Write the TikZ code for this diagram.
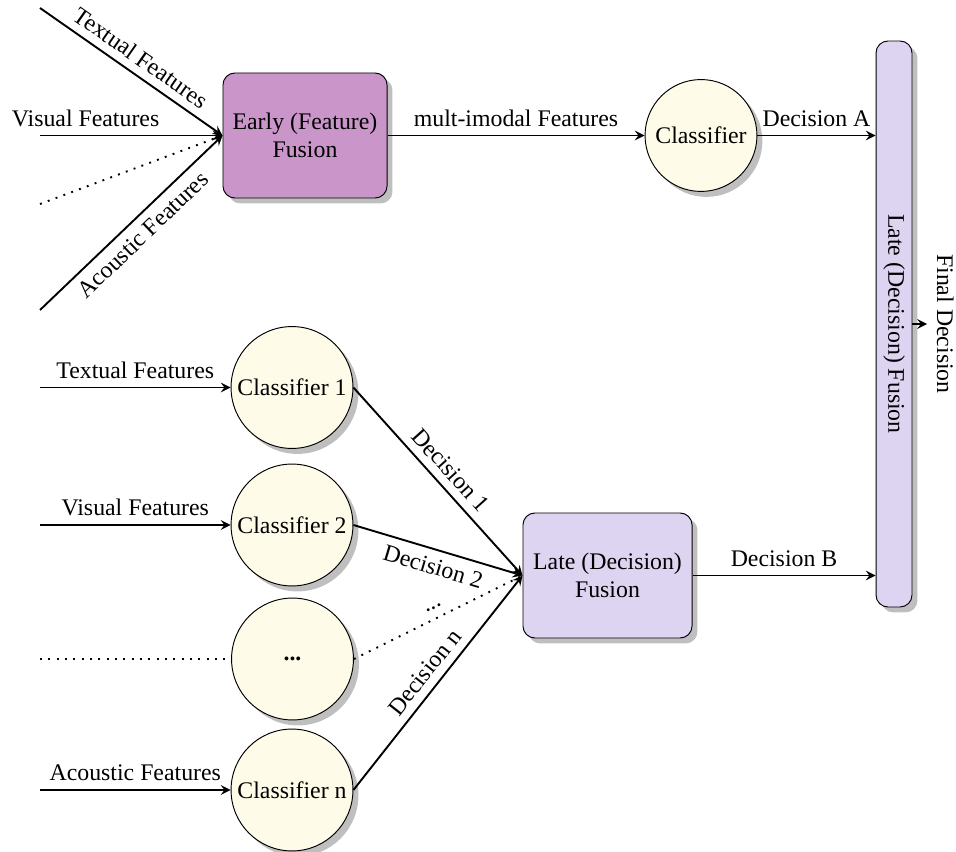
\documentclass[tikz,border=0pt]{standalone}
\usepackage{fontspec}
\setmainfont{Liberation Serif}
\usetikzlibrary{
    positioning,
    arrows.meta,
    shadows
}
\definecolor{fillPlum}{RGB}{202, 150, 202}
\definecolor{fillLavender}{RGB}{221, 212, 242}
\definecolor{fillCream}{RGB}{254, 251, 232}

\begin{document}
\begin{tikzpicture}[x=0.42pt, y=-0.42pt, >=stealth,
    fusionbox/.style={draw, rounded corners=5pt, drop shadow, align=center, inner sep=2pt},
    classnode/.style={draw, circle, fill=fillCream, drop shadow, inner sep=1pt},
    feat/.style={->, thick},
    dotline/.style={thick, dash pattern=on 0.8pt off 2.7pt}]
        \useasboundingbox (0,0) rectangle (956,852);

        % 融合ブロック
        \node[fusionbox, fill=fillPlum, minimum width=68.9pt, minimum height=52.5pt] (early) at (305,135.5) {Early (Feature)\\Fusion};
        \node[classnode, minimum size=47pt] (clf) at (701,135.5) {Classifier};
        \node[fusionbox, fill=fillLavender, minimum width=15.1pt, minimum height=237.7pt, inner sep=0pt] (latebar) at (894,324) {\rotatebox{-90}{Late (Decision) Fusion}};
        \node[fusionbox, fill=fillLavender, minimum width=71pt, minimum height=52.5pt] (late) at (607.5,575.5) {Late (Decision)\\Fusion};

        % 分類器
        \node[classnode, minimum size=51.2pt] (clf1) at (292,387.5) {Classifier 1};
        \node[classnode, minimum size=51.2pt] (clf2) at (292,525) {Classifier 2};
        \node[classnode, minimum size=51.2pt] (clfdots) at (292.5,659) {\textbf{...}};
        \node[classnode, minimum size=51.2pt] (clfn) at (292,790) {Classifier n};

        % 入力の端点
        \coordinate (tsrc) at (40,8);
        \coordinate (vsrc) at (40,135.5);
        \coordinate (dsrc) at (40,204);
        \coordinate (asrc) at (40,310);
        \coordinate (tsrc2) at (40,387.5);
        \coordinate (vsrc2) at (40,525);
        \coordinate (dsrc2) at (40,659);
        \coordinate (asrc2) at (40,790);
        \coordinate (outend) at (927,324);

        % 早期融合
        \draw[feat] (tsrc) -- (early.west) node[midway, above, sloped]{Textual Features};
        \draw[feat] (vsrc) -- (early.west) node[pos=0.25, above]{Visual Features};
        \draw[dotline] (dsrc) -- (early.west);
        \draw[feat] (asrc) -- (early.west) node[midway, below, sloped]{Acoustic Features};
        \draw[feat] (early) -- (clf) node[midway, above]{mult-imodal Features};
        \draw[feat] (clf.east) -- (clf.east -| latebar.west) node[midway, above]{Decision A};

        % 後期融合
        \draw[feat] (tsrc2) -- (clf1) node[midway, above]{Textual Features};
        \draw[feat] (vsrc2) -- (clf2) node[midway, above]{Visual Features};
        \draw[dotline] (dsrc2) -- (clfdots);
        \draw[feat] (asrc2) -- (clfn) node[midway, above]{Acoustic Features};

        \draw[feat] (clf1.east) -- (late.west) node[midway, above, sloped]{Decision 1};
        \draw[feat] (clf2.east) -- (late.west) node[midway, below, sloped]{Decision 2};
        \draw[dotline] (clfdots.east) -- (late.west) node[midway, above, sloped]{...};
        \draw[feat] (clfn.east) -- (late.west) node[midway, above, sloped]{Decision n};
        \draw[feat] (late.east) -- (late.east -| latebar.west) node[midway, above]{Decision B};

        \draw[feat] (latebar.east) -- (outend);
        \node[rotate=-90, anchor=south, inner sep=4pt] (final) at (outend) {Final Decision};
    \end{tikzpicture}
\end{document}
